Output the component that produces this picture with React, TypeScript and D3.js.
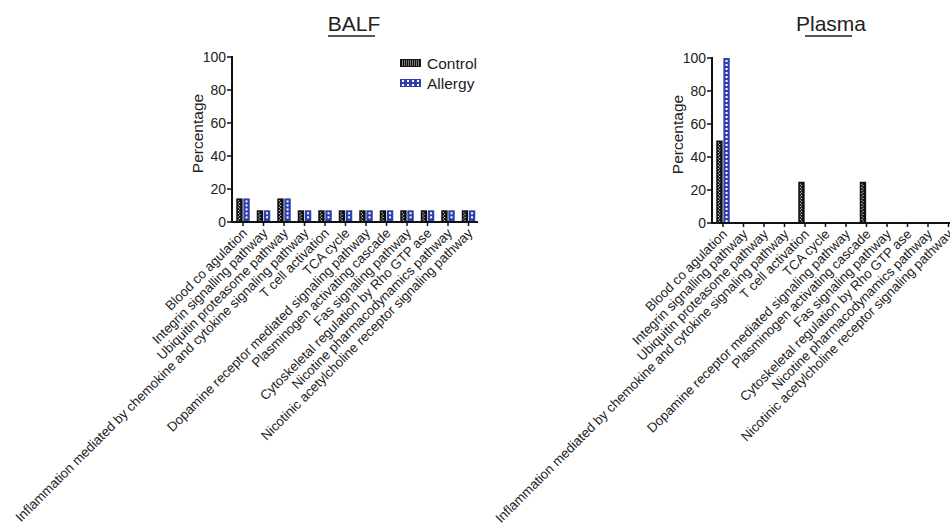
import React from "react";
import * as d3 from "d3";

const categories = [
  "Blood co agulation",
  "Integrin signalling pathway",
  "Ubiquitin proteasome pathway",
  "Inflammation mediated by chemokine and cytokine signaling pathway",
  "T cell activation",
  "TCA cycle",
  "Dopamine receptor mediated signaling pathway",
  "Plasminogen activating cascade",
  "Fas signaling pathway",
  "Cytoskeletal regulation by Rho GTP ase",
  "Nicotine pharmacodynamics pathway",
  "Nicotinic acetylcholine receptor signaling pathway",
];
const seriesNames = ["Control", "Allergy"];
const balfControl = [14.3, 7.1, 14.3, 7.1, 7.1, 7.1, 7.1, 7.1, 7.1, 7.1, 7.1, 7.1];
const balfAllergy = [14.3, 7.1, 14.3, 7.1, 7.1, 7.1, 7.1, 7.1, 7.1, 7.1, 7.1, 7.1];
const plasmaControl = [50, 0, 0, 0, 25, 0, 0, 25, 0, 0, 0, 0];
const plasmaAllergy = [100, 0, 0, 0, 0, 0, 0, 0, 0, 0, 0, 0];
const yTicks = [0, 20, 40, 60, 80, 100];

const FONT = "'Liberation Sans', Arial, sans-serif";
const TEXT = "#222";
const BLUE = "#2f3fae";

function ControlBar({ x, y, w, h }: { x: number; y: number; w: number; h: number }) {
  if (h <= 0) return null;
  const dots: JSX.Element[] = [];
  let k = 0;
  for (let yy = y + 2; yy < y + h - 1; yy += 1.6) {
    dots.push(
      <rect key={k} x={x + w / 2 - 1 + (k % 2 === 0 ? -0.6 : 0.6)} y={yy} width={1.1} height={0.9} fill="#fff" />
    );
    k++;
  }
  return (
    <g>
      <rect x={x} y={y} width={w} height={h} fill="#111" />
      {dots}
    </g>
  );
}

function AllergyBar({ x, y, w, h }: { x: number; y: number; w: number; h: number }) {
  if (h <= 0) return null;
  const sq: JSX.Element[] = [];
  let k = 0;
  for (let yy = y + 2; yy < y + h - 2; yy += 4) {
    sq.push(<rect key={k++} x={x + w / 2 - 1} y={yy} width={2} height={2} fill="#fff" />);
  }
  return (
    <g>
      <rect x={x} y={y} width={w} height={h} fill={BLUE} />
      {sq}
    </g>
  );
}

function Panel({
  title,
  left,
  right,
  top,
  bottom,
  control,
  allergy,
  titleX,
  legend,
}: {
  title: string;
  left: number;
  right: number;
  top: number;
  bottom: number;
  control: number[];
  allergy: number[];
  titleX: number;
  legend: boolean;
}) {
  const x = d3.scaleBand<string>().domain(categories).range([left, right]).padding(0);
  const y = d3.scaleLinear().domain([0, 100]).range([bottom, top]);
  const inner = d3
    .scaleBand<string>()
    .domain(seriesNames)
    .range([x.bandwidth() / 2 - 6, x.bandwidth() / 2 + 7.5])
    .paddingInner(0.1);
  const bw = inner.bandwidth();
  return (
    <g>
      <text x={titleX} y={31} fontSize={21} textAnchor="middle" fill={TEXT} fontFamily={FONT}>
        {title}
      </text>
      <line x1={titleX - 26} x2={titleX + 21} y1={36} y2={36} stroke="#555" strokeWidth={2} />
      <text
        transform={`translate(${left - 29},${(top + bottom) / 2 - 6}) rotate(-90)`}
        textAnchor="middle"
        fontSize={15.5}
        fill={TEXT}
        fontFamily={FONT}
      >
        Percentage
      </text>
      {categories.map((c, i) => {
        const bx = x(c)!;
        const cv = control[i];
        const av = allergy[i];
        return (
          <g key={c}>
            <ControlBar x={bx + inner("Control")!} y={y(cv)} w={bw} h={y(0) - y(cv)} />
            <AllergyBar x={bx + inner("Allergy")!} y={y(av)} w={bw} h={y(0) - y(av)} />
          </g>
        );
      })}
      <line x1={left} x2={left} y1={top - 1} y2={bottom + 1} stroke="#111" strokeWidth={2} />
      <line x1={left - 1} x2={right} y1={bottom} y2={bottom} stroke="#111" strokeWidth={2} />
      {yTicks.map((t) => (
        <g key={t}>
          <line x1={left - 5} x2={left} y1={y(t)} y2={y(t)} stroke="#111" strokeWidth={1.5} />
          <text x={left - 6} y={y(t) + 5} fontSize={14} textAnchor="end" fill={TEXT} fontFamily={FONT}>
            {t}
          </text>
        </g>
      ))}
      {categories.map((c) => {
        const cx = x(c)! + x.bandwidth() / 2 + 0.75;
        return (
          <g key={"t" + c}>
            <line x1={cx} x2={cx} y1={bottom} y2={bottom + 4} stroke="#111" strokeWidth={1.5} />
            <text
              transform={`translate(${cx + 5},${bottom + 12}) rotate(-45)`}
              textAnchor="end"
              fontSize={13.3}
              fill={TEXT}
              fontFamily={FONT}
            >
              {c}
            </text>
          </g>
        );
      })}
      {legend && (
        <g>
          <rect x={400} y={59} width={21} height={8} fill="#111" />
          {d3.range(0, 9).map((i) =>
            d3.range(0, 3).map((j) => (
              <rect key={`l${i}-${j}`} x={402 + i * 2} y={60.5 + j * 2} width={1} height={1} fill="#ddd" />
            ))
          )}
          <text x={427} y={69.3} fontSize={15.5} fill={TEXT} fontFamily={FONT}>
            Control
          </text>
          <rect x={400} y={79} width={21} height={8} fill={BLUE} />
          {d3.range(0, 4).map((i) =>
            d3.range(0, 2).map((j) => (
              <rect key={`a${i}-${j}`} x={402 + i * 5} y={80 + j * 4} width={2} height={2} fill="#fff" />
            ))
          )}
          <text x={427} y={89.3} fontSize={15.5} fill={TEXT} fontFamily={FONT}>
            Allergy
          </text>
        </g>
      )}
    </g>
  );
}

export default function App() {
  return (
    <svg
      width={950}
      height={527}
      style={{ position: "absolute", left: 0, top: 0, background: "#fff" }}
      fontFamily={FONT}
    >
      <rect width={950} height={527} fill="#fff" />
      <Panel
        title="BALF"
        left={232}
        right={478}
        top={57}
        bottom={222}
        control={balfControl}
        allergy={balfAllergy}
        titleX={354}
        legend={true}
      />
      <Panel
        title="Plasma"
        left={712}
        right={958}
        top={58}
        bottom={223}
        control={plasmaControl}
        allergy={plasmaAllergy}
        titleX={831}
        legend={false}
      />
    </svg>
  );
}
